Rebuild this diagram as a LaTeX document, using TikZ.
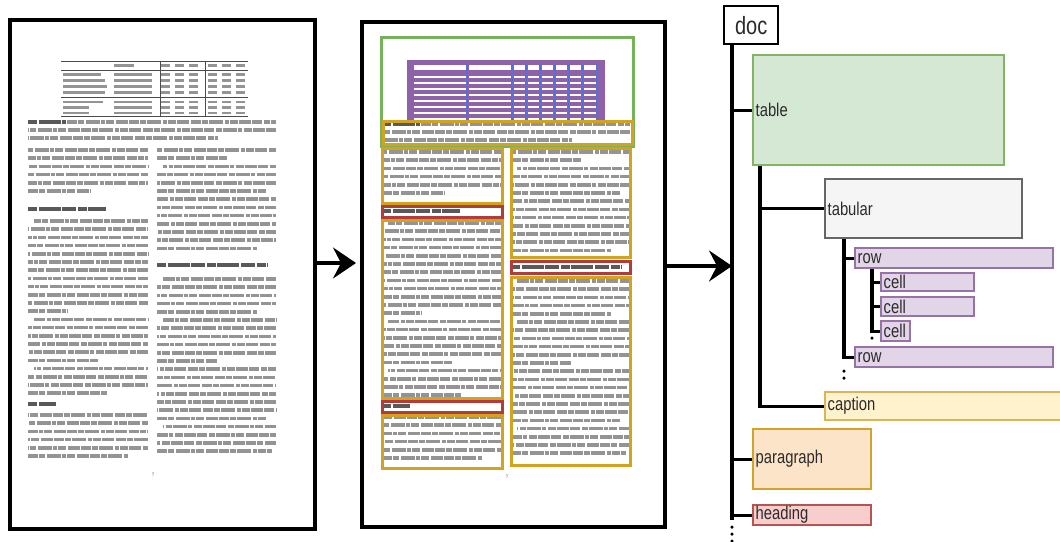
\documentclass[tikz,border=0pt]{standalone}
\usepackage{fontspec}
\setmainfont{Liberation Serif}
\newfontfamily\labfont[FakeStretch=0.8]{Liberation Sans}
\usetikzlibrary{arrows.meta}
\definecolor{txt}{HTML}{2B2B2B}
\definecolor{gF}{HTML}{D5E8D4}\definecolor{gS}{HTML}{82B366}
\definecolor{kF}{HTML}{F5F5F5}\definecolor{kS}{HTML}{666666}
\definecolor{pF}{HTML}{E1D5E7}\definecolor{pS}{HTML}{9673A6}
\definecolor{yF}{HTML}{FFF2CC}\definecolor{yS}{HTML}{D6B656}
\definecolor{oF}{HTML}{FCE4C8}\definecolor{oS}{HTML}{D4A22A}
\definecolor{rF}{HTML}{F8CECC}\definecolor{rS}{HTML}{B85450}
\definecolor{ovG}{HTML}{76B257}
\definecolor{ovP}{HTML}{8E62A8}
\definecolor{ovB}{HTML}{5A6FD0}
\definecolor{ovY}{HTML}{D3A21F}
\definecolor{ovR}{HTML}{B23B3B}
\def\lsp{8.2}
\newcommand\mypara[6]{%
  \pgfmathtruncatemacro\nn{#4-2}%
  \foreach \k in {0,...,\nn}{%
    \pgfmathsetmacro\xs{\k==0 ? #1+#6 : #1}%
    \pgfmathsetmacro\yy{#3+\k*\lsp}%
    \pgfmathsetmacro\ph{mod(\k*13+#3,40)}%
    \draw[tline,dash phase=\ph pt] (\xs,\yy) -- (#2,\yy);}%
  \pgfmathsetmacro\yy{#3+(#4-1)*\lsp}%
  \draw[tline] (#1,\yy) -- ({#1+#5},\yy);}
\newcommand\pagecontent{%
  % table
  \foreach \yy in {43,52,79.7,98}{\draw[rule] (55,\yy) -- (242,\yy);}
  \draw[rule] (154,43) -- (154,98);
  \draw[rule] (199,43) -- (199,98);
  \draw[tcell] (108,47.5) -- (128,47.5);
  \foreach \cx in {159.5,173.5,187.5,206,220,234}{\draw[tcell] (\cx-4.5,47.5) -- (\cx+4.5,47.5);}
  \foreach \yy/\ln in {56.5/38,62.5/42,68.5/44,74.5/42,84/40,89.5/26,95/26}{%
    \draw[tcell] (57,\yy) -- (57+\ln,\yy);
    \draw[tcell] (108,\yy) -- (146,\yy);
    \foreach \cx in {159.5,173.5,187.5,206,220,234}{\draw[tcell] (\cx-4.5,\yy) -- (\cx+4.5,\yy);}}
  % caption
  \draw[hline] (22,104) -- (60,104);
  \draw[tline] (61,104) -- (270,104);
  \draw[tline,dash phase=9pt] (22,112) -- (270,112);
  \draw[tline,dash phase=17pt] (22,120) -- (212,120);
  % left column
  \mypara{22}{142}{132}{6}{62}{0}
  \draw[hline] (22,191) -- (100,191);
  \mypara{22}{142}{203}{12}{40}{6}
  \mypara{22}{142}{301.4}{6}{70}{6}
  \mypara{22}{142}{350.6}{4}{80}{6}
  \draw[hline] (22,386) -- (50,386);
  \mypara{22}{142}{397}{6}{100}{0}
  % right column
  \mypara{151}{270}{132}{2}{70}{0}
  \mypara{151}{270}{148.4}{4}{110}{6}
  \mypara{151}{270}{181.2}{7}{100}{0}
  \draw[hline] (151,247) -- (262,247);
  \mypara{151}{270}{261}{5}{100}{6}
  \mypara{151}{270}{302}{6}{60}{6}
  \mypara{151}{270}{351.2}{7}{110}{0}
  \mypara{151}{270}{408.6}{4}{115}{6}
  \node[font=\fontsize{5}{5}\selectfont, text=black!70, inner sep=0pt] (pnum) at (147,457) {7};
}
\begin{document}
\begin{tikzpicture}[x=1pt,y=-1pt,
  tline/.style={line width=3.7pt, draw=black!42, dash pattern=on 10pt off 1.3pt on 6pt off 1.3pt on 14pt off 1.3pt on 4pt off 1.3pt on 8pt off 1.3pt on 12pt off 1.3pt},
  hline/.style={line width=3.9pt, draw=black!65, dash pattern=on 9pt off 1.6pt on 22pt off 1.6pt on 14pt off 1.6pt},
  tcell/.style={line width=2.6pt, draw=black!42},
  rule/.style={line width=0.8pt, draw=black!70},
  pageframe/.style={draw=black, line width=3.8pt, fill=white, anchor=north west, inner sep=0pt},
  arr/.style={line width=3.2pt, -{Stealth[length=23pt,width=31pt,inset=8pt]}},
  conn/.style={line width=3.3pt, draw=black},
  tbox/.style={draw, line width=2.3pt, anchor=north west, inner xsep=2.5pt, inner ysep=0pt, align=left, text=txt, font=\labfont\fontsize{18.5}{18.5}\selectfont},
  ovbox/.style={line width=3pt}]
\useasboundingbox (0,0) rectangle (1060,541);
\clip (0,0) rectangle (1060,541);
\fill[white] (0,0) rectangle (1060,541);

% pages
\node[pageframe, minimum width=305pt, minimum height=509pt] (p1) at (8,18) {};
\node[pageframe, minimum width=303pt, minimum height=505pt] (p2) at (360,20) {};
\begin{scope}[shift={(6,18)}]
  \pagecontent
\end{scope}
\begin{scope}[shift={(360,20)}]
  \pagecontent
  % overlays
  \fill[ovP] (48,41) rectangle (244,101);
  \foreach \yy/\hh in {47.5/2.4,57/1.3,63/1.3,69/1.3,75/1.3,81/1.3,87/1.3,93/1.3,98.5/1}{%
    \foreach \ca/\cb in {52/107,107/152,152/166.2,166.2/180.3,180.3/194.5,194.5/208.7,208.7/222.8,222.8/237}{%
      \fill[white] (\ca+1.5,\yy-\hh) rectangle (\cb-1.5,\yy+\hh);}}
  \foreach \cx in {107,152,166.2,180.3,194.5,208.7,222.8,237}{\draw[ovB, line width=2pt] (\cx,43) -- (\cx,100);}
  \draw[ovP, line width=2.4pt] (48,41) rectangle (244,101);
  \draw[ovbox, ovG] (21,17) rectangle (273,126);
  \draw[ovbox, ovY] (23,101) rectangle (272,124.5);
  \draw[ovbox, ovY] (22,128) rectangle (142,183);
  \draw[ovbox, ovR] (22,186) rectangle (142,197);
  \draw[ovbox, ovY] (22,200) rectangle (142,378);
  \draw[ovbox, ovR] (22,381) rectangle (142,392);
  \draw[ovbox, ovY] (22,395) rectangle (142,448);
  \draw[ovbox, ovY] (151,128) rectangle (270,237);
  \draw[ovbox, ovR] (151,241) rectangle (270,253);
  \draw[ovbox, ovY] (151,257) rectangle (270,445);
\end{scope}

% arrows between panels
\coordinate (ar1) at (0,263);
\coordinate (ar2) at (0,266);

% tree
\node[tbox, fill=white, draw=black, minimum height=38pt, text width=49pt, align=center, font=\labfont\fontsize{25}{25}\selectfont] (doc) at (723,5) {doc};
\node[tbox, fill=gF, draw=gS, minimum height=110pt, text width=246pt] (table) at (752,54) {table};
\node[tbox, fill=kF, draw=kS, minimum height=59pt, text width=192pt] (tabular) at (824,178) {tabular};
\node[tbox, fill=pF, draw=pS, minimum height=20pt, text width=193pt] (row1) at (854,247) {row};
\node[tbox, fill=pF, draw=pS, minimum height=18pt, text width=88pt] (cell1) at (880,272) {cell};
\node[tbox, fill=pF, draw=pS, minimum height=19pt, text width=88pt] (cell2) at (880,296) {cell};
\node[tbox, fill=pF, draw=pS, minimum height=20pt, text width=24pt] (cell3) at (880,320) {cell};
\node[tbox, fill=pF, draw=pS, minimum height=20pt, text width=193pt] (row2) at (854,346) {row};
\node[tbox, fill=yF, draw=yS, minimum height=28pt, text width=241pt] (caption) at (824,391) {caption};
\node[tbox, fill=oF, draw=oS, minimum height=60pt, text width=113pt] (paragraph) at (752,428) {paragraph};
\node[tbox, fill=rF, draw=rS, minimum height=20pt, text width=113pt] (heading) at (752,504) {heading};

\coordinate (dl) at ([xshift=9pt]doc.south west);
\coordinate (tl) at ([xshift=8pt]table.south west);
\coordinate (bl) at ([xshift=20pt]tabular.south west);
\coordinate (rl) at ([xshift=18pt]row1.south west);

\draw[conn] (dl) |- (table.west);
\draw[conn] (dl) |- (paragraph.west);
\draw[conn] (dl) |- (heading.west);
\draw[conn] (dl |- heading.west) -- ++(0,5);
\foreach \d in {12,19,26}{\fill ([yshift=-\d pt]dl |- heading.west) circle (1.7pt);}
\draw[conn] (tl) |- (tabular.west);
\draw[conn] (tl) |- (caption.west);
\draw[conn] (bl) |- (row1.west);
\draw[conn] (bl) |- (row2.west);
\foreach \d in {14,21}{\fill ([yshift=-\d pt]bl |- row2.west) circle (1.7pt);}
\draw[conn] (rl) |- (cell1.west);
\draw[conn] (rl) |- (cell2.west);
\draw[conn] (rl) |- (cell3.west);
\fill ([yshift=-7pt]rl |- cell3.west) circle (1.7pt);

\draw[arr, shorten >=4pt] (p1.east |- ar1) -- (p2.west |- ar1);
\draw[arr] (p2.east |- ar2) -- (dl |- ar2);
\end{tikzpicture}
\end{document}
